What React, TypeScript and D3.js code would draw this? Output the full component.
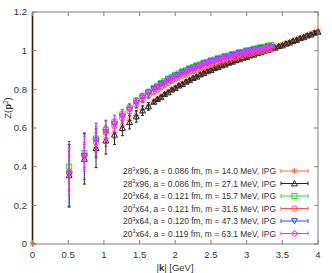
import React from "react";
import * as d3 from "d3";

// ---- data ----
const xTicks = [0, 0.5, 1, 1.5, 2, 2.5, 3, 3.5, 4];
const yTicks = [0, 0.2, 0.4, 0.6, 0.8, 1, 1.2];

// low momenta (common to both lattices, |k| in GeV)
const kLow = [0.514, 0.727, 0.89, 1.028, 1.149, 1.259, 1.36, 1.454, 1.542, 1.625];
// dense momenta, 28^3x96
const kDense28 = [
  1.7, 1.75, 1.8, 1.85, 1.9, 1.95, 2.0, 2.05, 2.1, 2.15, 2.2, 2.25, 2.3, 2.35, 2.4, 2.45,
  2.5, 2.55, 2.6, 2.65, 2.7, 2.75, 2.8, 2.85, 2.9, 2.95, 3.0, 3.05, 3.1, 3.15, 3.2, 3.25,
  3.3, 3.35, 3.4, 3.45, 3.5, 3.55, 3.6, 3.65, 3.7, 3.75, 3.8, 3.85, 3.9, 3.95, 4.0,
];
// dense momenta, 20^3x64
const kDense20 = [
  1.7, 1.75, 1.8, 1.85, 1.9, 1.95, 2.0, 2.05, 2.1, 2.15, 2.2, 2.25, 2.3, 2.35, 2.4, 2.45,
  2.5, 2.55, 2.6, 2.65, 2.7, 2.75, 2.8, 2.85, 2.9, 2.95, 3.0, 3.05, 3.1, 3.15, 3.2, 3.25,
  3.3, 3.35,
];

// zero-momentum point of the first series
const zeroK = [0];
const zeroZ = [0];

// series 1: 28^3x96, m = 14.0 MeV
const orangeLow = [0.38, 0.455, 0.5, 0.545, 0.575, 0.61, 0.64, 0.665, 0.695, 0.715];
const orangeLowErr = [0.1, 0.07, 0.05, 0.04, 0.03, 0.025, 0.02, 0.02, 0.015, 0.015];
const orangeDense = [
  0.739, 0.751, 0.765, 0.776, 0.789, 0.799, 0.811, 0.821, 0.832, 0.841, 0.852, 0.86, 0.87, 0.878,
  0.888, 0.895, 0.904, 0.911, 0.919, 0.925, 0.933, 0.939, 0.947, 0.952, 0.96, 0.965, 0.972, 0.977,
  0.984, 0.989, 0.996, 1.001, 1.008, 1.013, 1.02, 1.025, 1.032, 1.038, 1.046, 1.052, 1.06, 1.066,
  1.074, 1.08, 1.088, 1.095, 1.103,
];
const orangeDenseErr = 0.006;

// series 2: 28^3x96, m = 27.1 MeV
const blackLow = [0.355, 0.44, 0.495, 0.535, 0.565, 0.6, 0.63, 0.66, 0.69, 0.712];
const blackLowErr = [0.16, 0.13, 0.1, 0.07, 0.05, 0.04, 0.035, 0.03, 0.025, 0.02];
const blackDense = [
  0.735, 0.75, 0.759, 0.775, 0.784, 0.798, 0.806, 0.819, 0.827, 0.839, 0.847, 0.858, 0.865, 0.876,
  0.883, 0.893, 0.899, 0.909, 0.914, 0.923, 0.928, 0.937, 0.942, 0.95, 0.955, 0.963, 0.967, 0.975,
  0.979, 0.987, 0.991, 0.999, 1.003, 1.011, 1.015, 1.023, 1.027, 1.036, 1.041, 1.05, 1.055, 1.064,
  1.069, 1.078, 1.083, 1.092, 1.097,
];
const blackDenseErr = 0.008;

// series 3: 20^3x64, m = 15.7 MeV
const greenLow = [0.4, 0.47, 0.545, 0.59, 0.63, 0.67, 0.705, 0.74, 0.765, 0.787];
const greenLowErr = [0.03, 0.03, 0.025, 0.02, 0.02, 0.015, 0.015, 0.01, 0.01, 0.01];
const greenDense = [
  0.807, 0.818, 0.832, 0.842, 0.855, 0.863, 0.875, 0.882, 0.893, 0.899, 0.909, 0.915, 0.924, 0.929,
  0.938, 0.942, 0.95, 0.954, 0.961, 0.965, 0.972, 0.975, 0.982, 0.985, 0.992, 0.994, 1.001, 1.003,
  1.01, 1.012, 1.018, 1.02, 1.026, 1.028,
];
const greenDenseErr = 0.004;

// series 4: 20^3x64, m = 31.5 MeV
const redLow = [0.365, 0.455, 0.525, 0.575, 0.61, 0.65, 0.685, 0.72, 0.745, 0.768];
const redLowErr = [0.09, 0.06, 0.05, 0.04, 0.03, 0.025, 0.02, 0.02, 0.015, 0.015];
const redDense = [
  0.785, 0.797, 0.81, 0.821, 0.833, 0.842, 0.853, 0.861, 0.871, 0.878, 0.887, 0.894, 0.902, 0.908,
  0.916, 0.921, 0.928, 0.933, 0.939, 0.944, 0.95, 0.954, 0.96, 0.964, 0.97, 0.973, 0.979, 0.982,
  0.988, 0.991, 0.996, 0.999, 1.004, 1.007,
];
const redDenseErr = 0.006;

// series 5: 20^3x64, m = 47.3 MeV
const blueLow = [0.36, 0.455, 0.535, 0.58, 0.62, 0.66, 0.695, 0.73, 0.757, 0.78];
const blueLowErr = [0.17, 0.12, 0.09, 0.06, 0.045, 0.035, 0.03, 0.025, 0.02, 0.02];
const blueDense = [
  0.803, 0.811, 0.828, 0.835, 0.851, 0.856, 0.871, 0.875, 0.889, 0.892, 0.905, 0.908, 0.92, 0.922,
  0.934, 0.935, 0.946, 0.947, 0.957, 0.958, 0.968, 0.968, 0.978, 0.978, 0.988, 0.987, 0.997, 0.996,
  1.006, 1.005, 1.014, 1.013, 1.022, 1.021,
];
const blueDenseErr = 0.008;

// series 6: 20^3x64, m = 63.1 MeV
const magentaLow = [0.375, 0.465, 0.54, 0.585, 0.625, 0.665, 0.7, 0.735, 0.76, 0.782];
const magentaLowErr = [0.12, 0.09, 0.07, 0.05, 0.04, 0.03, 0.025, 0.02, 0.02, 0.015];
const magentaDense = [
  0.8, 0.813, 0.825, 0.837, 0.848, 0.858, 0.868, 0.877, 0.886, 0.894, 0.902, 0.91, 0.917, 0.924,
  0.931, 0.937, 0.943, 0.949, 0.954, 0.96, 0.965, 0.97, 0.975, 0.98, 0.985, 0.989, 0.994, 0.998,
  1.003, 1.007, 1.011, 1.015, 1.019, 1.023,
];
const magentaDenseErr = 0.006;

const legendLattice = ["28", "28", "20", "20", "20", "20"];
const legendTime = ["x96", "x96", "x64", "x64", "x64", "x64"];
const legendA = ["0.086", "0.086", "0.121", "0.121", "0.120", "0.119"];
const legendM = ["14.0", "27.1", "15.7", "31.5", "47.3", "63.1"];
const colors = ["#ff6a3d", "#262626", "#22e022", "#ff5050", "#3050ff", "#ff30ff"];
const shapes = ["star", "tri", "square", "circle", "tridown", "diamond"];

type Pt = { k: number; z: number; e: number };

function build(low: number[], lowErr: number[], kd: number[], dense: number[], de: number): Pt[] {
  const pts: Pt[] = kLow.map((k, i) => ({ k, z: low[i], e: lowErr[i] }));
  kd.forEach((k, i) => pts.push({ k, z: dense[i], e: de }));
  return pts;
}

const series: Pt[][] = [
  [
    ...zeroK.map((k, i) => ({ k, z: zeroZ[i], e: 0 })),
    ...build(orangeLow, orangeLowErr, kDense28, orangeDense, orangeDenseErr),
  ],
  build(blackLow, blackLowErr, kDense28, blackDense, blackDenseErr),
  build(greenLow, greenLowErr, kDense20, greenDense, greenDenseErr),
  build(redLow, redLowErr, kDense20, redDense, redDenseErr),
  build(blueLow, blueLowErr, kDense20, blueDense, blueDenseErr),
  build(magentaLow, magentaLowErr, kDense20, magentaDense, magentaDenseErr),
];

// ---- layout ----
const W = 332;
const H = 273;
const L = 32.5;
const R = 318;
const T = 12;
const B = 244;
const FONT = "'Liberation Sans', Arial, sans-serif";

const x = d3.scaleLinear().domain([0, 4]).range([L, R]);
const y = d3.scaleLinear().domain([0, 1.2]).range([B, T]);

function Marker({ shape, cx, cy, color }: { shape: string; cx: number; cy: number; color: string }) {
  const s = 3;
  const common = { fill: "none", stroke: color, strokeWidth: 1 };
  switch (shape) {
    case "star":
      return (
        <path
          d={`M${cx - s},${cy}H${cx + s}M${cx},${cy - s}V${cy + s}M${cx - s * 0.75},${cy - s * 0.75}L${cx + s * 0.75},${cy + s * 0.75}M${cx - s * 0.75},${cy + s * 0.75}L${cx + s * 0.75},${cy - s * 0.75}`}
          {...common}
        />
      );
    case "tri":
      return <path d={`M${cx},${cy - s}L${cx + s},${cy + s * 0.8}L${cx - s},${cy + s * 0.8}Z`} {...common} />;
    case "tridown":
      return <path d={`M${cx},${cy + s}L${cx + s},${cy - s * 0.8}L${cx - s},${cy - s * 0.8}Z`} {...common} />;
    case "square":
      return <rect x={cx - s * 0.85} y={cy - s * 0.85} width={s * 1.7} height={s * 1.7} {...common} />;
    case "circle":
      return <circle cx={cx} cy={cy} r={s * 0.9} {...common} />;
    default:
      return <path d={`M${cx},${cy - s}L${cx + s},${cy}L${cx},${cy + s}L${cx - s},${cy}Z`} {...common} />;
  }
}

export default function App() {
  const legendRows = legendM.map((_, i) => 171 + i * 12.5);
  return (
    <svg width={W} height={H} style={{ position: "absolute", left: 0, top: 0, background: "#fff" }}>
      {/* data */}
      <g>
        {series.map((pts, si) => (
          <g key={si}>
            {pts.map((p, i) => {
              const px = x(p.k);
              const py = y(p.z);
              const y1 = y(p.z + p.e);
              const y2 = y(p.z - p.e);
              const c = colors[si];
              return (
                <g key={i}>
                  {p.e > 0 && (
                    <path
                      d={`M${px},${y1}V${y2}M${px - 1.5},${y1}H${px + 1.5}M${px - 1.5},${y2}H${px + 1.5}`}
                      stroke={c}
                      strokeWidth={1}
                      fill="none"
                    />
                  )}
                  <Marker shape={shapes[si]} cx={px} cy={py} color={c} />
                </g>
              );
            })}
          </g>
        ))}
      </g>

      {/* frame */}
      <rect x={L} y={T} width={R - L} height={B - T} fill="none" stroke="#808080" strokeWidth={1} />
      <line x1={L} x2={L} y1={T} y2={B} stroke="#3a1a0a" strokeWidth={1.6} />

      {/* ticks */}
      {xTicks.map((t) => (
        <g key={"x" + t}>
          <line x1={x(t)} x2={x(t)} y1={B} y2={B - 4} stroke="#808080" />
          <line x1={x(t)} x2={x(t)} y1={T} y2={T + 4} stroke="#808080" />
          <text x={x(t)} y={258} textAnchor="middle" fontFamily={FONT} fontSize={9.5} fill="#333">
            {d3.format("~g")(t)}
          </text>
        </g>
      ))}
      {yTicks.map((t) => (
        <g key={"y" + t}>
          <line x1={L} x2={L + 4} y1={y(t)} y2={y(t)} stroke="#808080" />
          <line x1={R} x2={R - 4} y1={y(t)} y2={y(t)} stroke="#808080" />
          <text x={27} y={y(t) + 3.4} textAnchor="end" fontFamily={FONT} fontSize={9.5} fill="#333">
            {d3.format("~g")(t)}
          </text>
        </g>
      ))}

      {/* axis labels */}
      <text x={175} y={271} textAnchor="middle" fontFamily={FONT} fontSize={9.5} fill="#333">
        |<tspan fontWeight="bold">k</tspan>| [GeV]
      </text>
      <text
        transform="translate(11,108) rotate(-90)"
        textAnchor="middle"
        fontFamily={FONT}
        fontSize={9.5}
        fill="#333"
      >
        Z(<tspan fontWeight="bold">p</tspan>
        <tspan fontSize={6.5} dy={-3.5}>2</tspan>
        <tspan dy={3.5}>)</tspan>
      </text>

      {/* legend */}
      {legendRows.map((ly, i) => (
        <g key={"lg" + i}>
          <text
            x={276}
            y={ly + 3.3}
            textAnchor="end"
            fontFamily={FONT}
            fontSize={9.3}
            fill="#333"
            textLength={153}
            lengthAdjust="spacingAndGlyphs"
          >
            {legendLattice[i]}
            <tspan fontSize={6} dy={-3.5}>3</tspan>
            <tspan dy={3.5}>{`${legendTime[i]}, a = ${legendA[i]} fm, m = ${legendM[i]} MeV, IPG`}</tspan>
          </text>
          <path
            d={`M281,${ly}H308M281,${ly - 2}V${ly + 2}M308,${ly - 2}V${ly + 2}`}
            stroke={colors[i]}
            strokeWidth={1}
            fill="none"
          />
          <Marker shape={shapes[i]} cx={294.5} cy={ly} color={colors[i]} />
        </g>
      ))}
    </svg>
  );
}
